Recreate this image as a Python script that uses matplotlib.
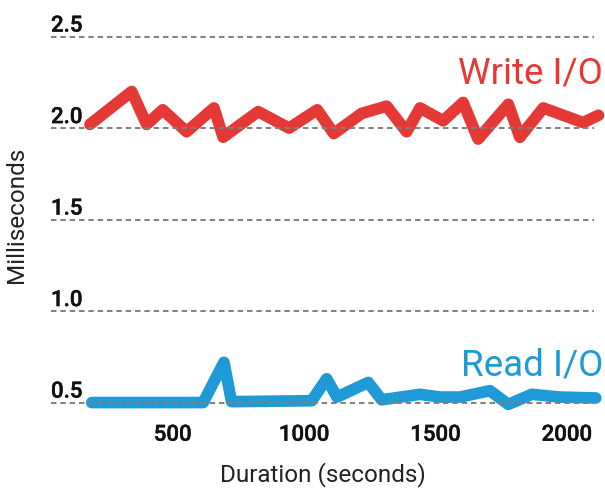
'''
Read / write I/O latency over a run.

Two latency traces (milliseconds) against run duration (seconds), labelled
directly at the right-hand end instead of with a legend.

    python plot.py   ->  out.png
'''

import matplotlib
matplotlib.use("Agg")
import matplotlib.pyplot as plt
import matplotlib.patheffects as pe

""" Values read off the reference chart """
WRITE_T = [185, 344, 401, 462, 553, 657, 692, 825, 943, 1050, 1113, 1219,
           1314, 1390, 1441, 1529, 1605, 1662, 1777, 1821, 1910, 2062, 2120]
WRITE_MS = [2.02, 2.20, 2.02, 2.10, 1.98, 2.11, 1.95, 2.09, 2.00, 2.10, 1.97,
            2.08, 2.12, 1.98, 2.11, 2.04, 2.14, 1.94, 2.13, 1.95, 2.11, 2.03,
            2.07]

READ_T = [192, 616, 695, 724, 1029, 1086, 1125, 1244, 1295, 1441, 1517,
          1593, 1707, 1777, 1866, 1973, 2110]
READ_MS = [0.50, 0.50, 0.72, 0.505, 0.51, 0.63, 0.53, 0.61, 0.515, 0.545,
           0.53, 0.53, 0.565, 0.49, 0.545, 0.53, 0.525]

X_TICKS = [500, 1000, 1500, 2000]
Y_TICKS = [0.5, 1.0, 1.5, 2.0, 2.5]

RED = "#E53935"
BLUE = "#1E9AD6"
TICK_COLOUR = "#111111"


""" One thick trace plus its name, right-aligned past the last point """
def draw_series(ax, t, y, colour, name, label_y):
    ax.plot(t, y, color=colour, lw=8.4, solid_capstyle="round",
            solid_joinstyle="round", clip_on=False, zorder=2)
    ax.text(2137, label_y, name, color=colour, fontsize=26.5,
            ha="right", va="baseline")


def main():
    plt.rcParams["font.family"] = ["Roboto", "DejaVu Sans"]

    fig = plt.figure(figsize=(6.05, 4.92), dpi=100)
    ax = fig.add_axes([0.0843, 0.1565, 0.8975, 0.813])

    draw_series(ax, WRITE_T, WRITE_MS, RED, "Write I/O", 2.242)
    draw_series(ax, READ_T, READ_MS, BLUE, "Read I/O", 0.65)

    ax.set_xlim(37, 2103)
    ax.set_ylim(0.432, 2.618)

    ax.set_xticks(X_TICKS)
    ax.set_yticks(Y_TICKS)
    ax.set_yticklabels([f"{v:.1f}" for v in Y_TICKS])
    ax.tick_params(axis="x", length=0, pad=7, labelsize=16,
                   labelcolor=TICK_COLOUR)
    ax.tick_params(axis="y", length=0, pad=0, labelsize=16,
                   labelcolor=TICK_COLOUR)
    # tick text is a touch heavier than Roboto Regular in the reference
    heavier = [pe.withStroke(linewidth=0.3, foreground=TICK_COLOUR)]
    for lab in ax.get_xticklabels() + ax.get_yticklabels():
        lab.set_fontweight("medium")
        lab.set_path_effects(heavier)
    for lab in ax.get_yticklabels():
        lab.set_horizontalalignment("left")
        lab.set_verticalalignment("bottom")

    # dashed grid sits on top of the traces
    ax.set_axisbelow(False)
    ax.grid(True, axis="y", color="#808080", lw=1.4,
            ls=(0, (2.8, 2.0)))
    ax.grid(False, axis="x")
    for s in ax.spines.values():
        s.set_visible(False)

    ax.set_xlabel("Duration (seconds)", fontsize=17.5, color="#222222",
                  labelpad=12)
    ax.set_ylabel("Milliseconds", fontsize=17.5, color="#222222")
    ax.yaxis.set_label_coords(-0.043, 0.5)

    fig.savefig("out.png", dpi=100)
    plt.close(fig)


if __name__ == "__main__":
    main()
